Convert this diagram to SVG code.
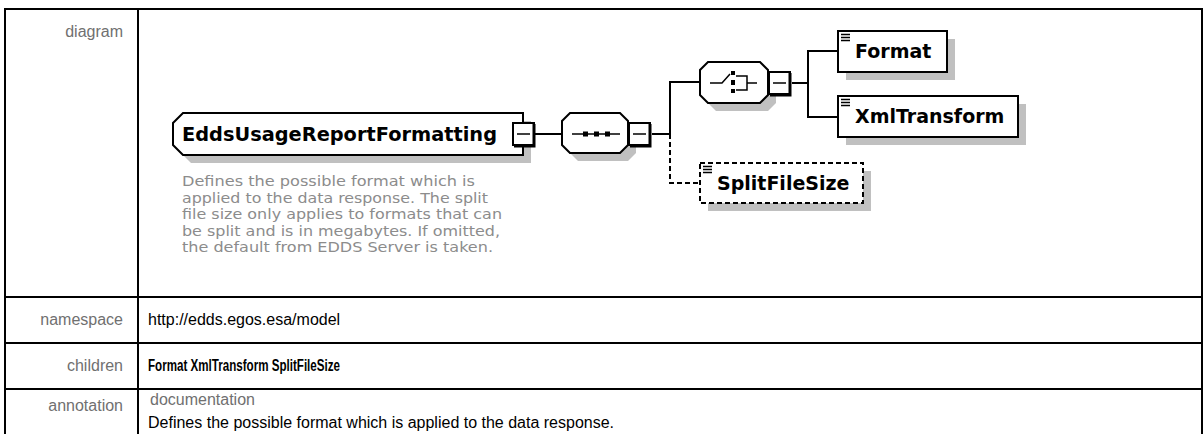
<svg xmlns="http://www.w3.org/2000/svg" width="1204" height="434" viewBox="0 0 1204 434">
<style>
.lbl{font-family:"Liberation Sans",Arial,sans-serif;font-size:16px;fill:#707070;text-anchor:end}
.val{font-family:"Liberation Sans",Arial,sans-serif;font-size:16px;fill:#000}
.bold{font-family:"Liberation Sans Narrow","Arial Narrow","Liberation Sans",sans-serif;font-weight:bold;font-size:16px}
.grid{stroke:#000;stroke-width:2;fill:none}
.name{font-family:"DejaVu Sans",Verdana,sans-serif;font-weight:bold;font-size:19px;fill:#000}
.desc{font-family:"DejaVu Sans",Verdana,sans-serif;font-size:14px;fill:#8c8c8c}
.box{fill:#fff;stroke:#000;stroke-width:2}
.dbox{fill:#fff;stroke:#000;stroke-width:2;stroke-dasharray:5 3}
.shadow{fill:#c0c0c0;stroke:none}
.conn{stroke:#000;stroke-width:2;fill:none}
.dash{stroke-dasharray:5 3}
.ico{stroke:#000;stroke-width:1.5;fill:none}
</style>
<defs>
<g id="exp">
<rect x="0" y="0" width="21" height="22" fill="#fff" stroke="#000" stroke-width="2"/>
<path d="M21,1 V23 H1" stroke="#000" stroke-width="3" fill="none"/>
<path d="M4,11 H17" stroke="#000" stroke-width="1.5"/>
</g>
<g id="eq">
<path d="M0,0.5 H9 M0,3.5 H9 M0,6.5 H9" stroke="#000" stroke-width="1.5"/>
</g>
</defs>

<g id="table">
<rect class="grid" x="5" y="9" width="1197" height="440"/>
<path class="grid" d="M138,9 V434 M5,297 H1202 M5,343 H1202 M5,389 H1202"/>
<text class="lbl" x="123" y="37">diagram</text>
<text class="lbl" x="123" y="325">namespace</text>
<text class="lbl" x="123" y="371">children</text>
<text class="lbl" x="123" y="411">annotation</text>
<text class="val" x="148" y="325">http://edds.egos.esa/model</text>
<text class="val bold" x="148" y="371" textLength="192" lengthAdjust="spacingAndGlyphs">Format XmlTransform SplitFileSize</text>
<text class="val" x="150" y="405" style="fill:#707070">documentation</text>
<text class="val" x="148" y="428">Defines the possible format which is applied to the data response.</text>
</g>

<g id="connectors">
<path class="conn" d="M535,134 H562"/>
<path class="conn" d="M652,134 H670 M670,81 V134 M670,82 H700"/>
<path class="conn dash" d="M670,134 V183 H700"/>
<path class="conn" d="M792,83 H808 M808,50 V117 M807,51 H838 M807,117 H838"/>
</g>

<g id="EddsUsageReportFormatting">
<polygon class="shadow" points="191,121 531,121 531,163 191,163 181,153 181,131"/>
<polygon class="box" points="183,113 523,113 523,155 183,155 173,145 173,123"/>
<text class="name" x="182" y="141" textLength="315" lengthAdjust="spacingAndGlyphs">EddsUsageReportFormatting</text>
<use href="#exp" x="513" y="123"/>
<text class="desc" x="182" y="186" textLength="293" lengthAdjust="spacingAndGlyphs">Defines the possible format which is</text>
<text class="desc" x="182" y="202.5" textLength="306" lengthAdjust="spacingAndGlyphs">applied to the data response. The split</text>
<text class="desc" x="182" y="219" textLength="320" lengthAdjust="spacingAndGlyphs">file size only applies to formats that can</text>
<text class="desc" x="182" y="235.5" textLength="318" lengthAdjust="spacingAndGlyphs">be split and is in megabytes. If omitted,</text>
<text class="desc" x="182" y="252" textLength="311" lengthAdjust="spacingAndGlyphs">the default from EDDS Server is taken.</text>
</g>

<g id="sequence">
<polygon class="shadow" points="578,121 628,121 636,129 636,153 628,161 578,161 570,153 570,129"/>
<polygon class="box" points="570,113 620,113 628,121 628,145 620,153 570,153 562,145 562,121"/>
<path class="ico" d="M572,134 H620"/>
<rect x="583" y="131.5" width="5" height="5" fill="#000"/>
<rect x="594" y="131.5" width="5" height="5" fill="#000"/>
<rect x="605" y="131.5" width="5" height="5" fill="#000"/>
<use href="#exp" x="629" y="123"/>
</g>

<g id="choice">
<polygon class="shadow" points="716,70 768,70 776,78 776,103 768,111 716,111 708,103 708,78"/>
<polygon class="box" points="708,62 760,62 768,70 768,95 760,103 708,103 700,95 700,70"/>
<path class="ico" d="M710,83 H722 L730,74"/>
<rect x="731" y="71" width="4" height="4" fill="#000"/>
<rect x="731" y="80" width="4" height="5" fill="#000"/>
<rect x="731" y="89" width="4" height="4" fill="#000"/>
<path class="ico" d="M736,76 H747 V90 H736 M747,83 H757"/>
<use href="#exp" x="769" y="72"/>
</g>

<g id="Format">
<rect class="shadow" x="846" y="39" width="109" height="41"/>
<rect class="box" x="838" y="31" width="109" height="41"/>
<use href="#eq" x="841" y="34"/>
<text class="name" x="855" y="58">Format</text>
</g>

<g id="XmlTransform">
<rect class="shadow" x="846" y="104" width="180" height="41"/>
<rect class="box" x="838" y="96" width="180" height="41"/>
<use href="#eq" x="841" y="99"/>
<text class="name" x="855" y="123">XmlTransform</text>
</g>

<g id="SplitFileSize">
<rect class="shadow" x="708" y="171" width="163" height="40"/>
<rect class="dbox" x="700" y="163" width="163" height="40"/>
<use href="#eq" x="703" y="166"/>
<text class="name" x="717" y="190">SplitFileSize</text>
</g>
</svg>
